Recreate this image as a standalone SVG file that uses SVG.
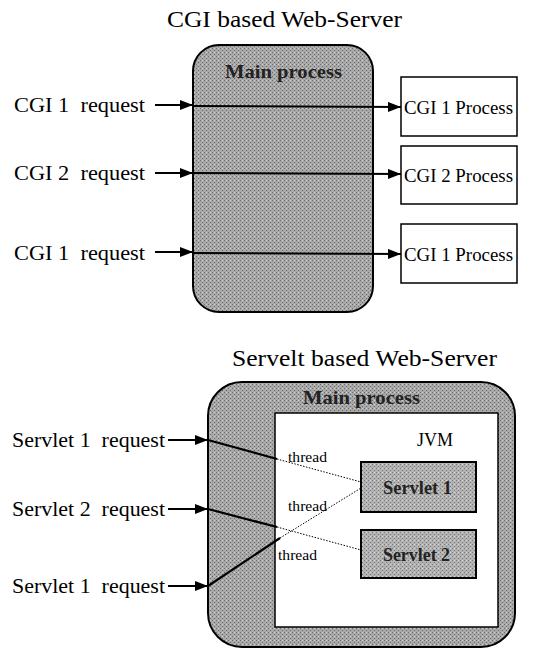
<svg xmlns="http://www.w3.org/2000/svg" width="536" height="648" viewBox="0 0 536 648">
<style>
.t{font-family:"Liberation Serif",serif;fill:#000;white-space:pre}
.lbl{font-size:21px}
.ttl{font-size:24px}
.proc{font-size:18px}
.mp{font-size:19px;font-weight:bold;fill:#222}
.th{font-size:15px}
.gray{fill:url(#dots);stroke:#000;stroke-width:2}
.box{fill:#fff;stroke:#000;stroke-width:1.5}
.arr{stroke:#000;stroke-width:2;fill:none;marker-end:url(#ah)}
.thick{stroke:#000;stroke-width:2.2;fill:none}
.dot{stroke:#000;stroke-width:1;stroke-dasharray:1.5 1.5;fill:none}
.sv{fill:url(#dots2);stroke:#000;stroke-width:2}
</style>
<defs>
<pattern id="dots" width="4" height="4" patternUnits="userSpaceOnUse">
<rect width="4" height="4" fill="#a8a8a8"/>
<rect width="1" height="1" fill="#6a6a6a"/>
<rect x="2" y="2" width="1" height="1" fill="#6a6a6a"/>
<rect x="2" y="0" width="1" height="1" fill="#d0d0d0"/>
</pattern>
<pattern id="dots2" width="4" height="4" patternUnits="userSpaceOnUse">
<rect width="4" height="4" fill="#b2b2b2"/>
<rect width="1" height="1" fill="#7a7a7a"/>
<rect x="2" y="2" width="1" height="1" fill="#7a7a7a"/>
<rect x="2" y="0" width="1" height="1" fill="#d8d8d8"/>
</pattern>
<marker id="ah" markerWidth="13" markerHeight="10" refX="13" refY="5" orient="auto" markerUnits="userSpaceOnUse">
<path d="M0,0 L13,5 L0,10 Z" fill="#000"/>
</marker>
</defs>

<text class="t ttl" x="167" y="27" textLength="235" lengthAdjust="spacingAndGlyphs">CGI based Web-Server</text>

<g id="cgi-main">
<rect class="gray" x="193" y="45" width="180" height="267" rx="26"/>
<text class="t mp" x="225" y="78" textLength="117" lengthAdjust="spacingAndGlyphs">Main process</text>
</g>

<g id="cgi-req1"><text class="t lbl" x="14" y="112" textLength="131" lengthAdjust="spacingAndGlyphs">CGI 1  request</text></g>
<g id="cgi-req2"><text class="t lbl" x="14" y="180" textLength="131" lengthAdjust="spacingAndGlyphs">CGI 2  request</text></g>
<g id="cgi-req3"><text class="t lbl" x="14" y="260" textLength="131" lengthAdjust="spacingAndGlyphs">CGI 1  request</text></g>

<g id="cgi-p1"><rect class="box" x="401" y="77" width="116" height="59"/><text class="t proc" x="404" y="114" textLength="109" lengthAdjust="spacingAndGlyphs">CGI 1 Process</text></g>
<g id="cgi-p2"><rect class="box" x="401" y="146" width="116" height="58"/><text class="t proc" x="404" y="182" textLength="109" lengthAdjust="spacingAndGlyphs">CGI 2 Process</text></g>
<g id="cgi-p3"><rect class="box" x="401" y="224" width="116" height="59"/><text class="t proc" x="404" y="261" textLength="109" lengthAdjust="spacingAndGlyphs">CGI 1 Process</text></g>

<g id="cgi-connectors">
<line class="arr" x1="155" y1="105" x2="193" y2="105"/>
<line class="arr" x1="193" y1="106" x2="401" y2="107"/>
<line class="arr" x1="155" y1="173" x2="193" y2="173"/>
<line class="arr" x1="193" y1="173" x2="401" y2="174"/>
<line class="arr" x1="155" y1="252" x2="193" y2="252"/>
<line class="arr" x1="193" y1="253" x2="401" y2="254"/>
</g>

<text class="t ttl" x="232" y="366" textLength="265" lengthAdjust="spacingAndGlyphs">Servelt based Web-Server</text>

<g id="srv-main">
<rect class="gray" x="208" y="382" width="307" height="265" rx="34"/>
<text class="t mp" x="303" y="404" textLength="117" lengthAdjust="spacingAndGlyphs">Main process</text>
</g>
<g id="jvm">
<rect class="box" x="275" y="413" width="223" height="214"/>
<text class="t" style="font-size:18px" x="417" y="446" textLength="36" lengthAdjust="spacingAndGlyphs">JVM</text>
</g>
<g id="servlet1"><rect class="sv" x="361" y="462" width="115" height="50"/><text class="t mp" x="383" y="494" textLength="69" lengthAdjust="spacingAndGlyphs" style="font-size:18px">Servlet 1</text></g>
<g id="servlet2"><rect class="sv" x="361" y="530" width="115" height="48"/><text class="t mp" x="383" y="561" textLength="67" lengthAdjust="spacingAndGlyphs" style="font-size:18px">Servlet 2</text></g>

<g id="srv-req1"><text class="t lbl" x="12" y="447" textLength="153" lengthAdjust="spacingAndGlyphs">Servlet 1  request</text></g>
<g id="srv-req2"><text class="t lbl" x="12" y="516" textLength="153" lengthAdjust="spacingAndGlyphs">Servlet 2  request</text></g>
<g id="srv-req3"><text class="t lbl" x="12" y="593" textLength="153" lengthAdjust="spacingAndGlyphs">Servlet 1  request</text></g>

<g id="srv-connectors">
<line class="arr" x1="168" y1="440" x2="208" y2="440"/>
<line class="arr" x1="168" y1="509" x2="208" y2="509"/>
<line class="arr" x1="168" y1="586" x2="208" y2="586"/>
<line class="thick" x1="208" y1="440" x2="277" y2="459"/>
<line class="dot" x1="277" y1="459" x2="361" y2="482"/>
<line class="thick" x1="208" y1="509" x2="277" y2="527"/>
<line class="dot" x1="277" y1="527" x2="361" y2="550"/>
<line class="thick" x1="208" y1="586" x2="280" y2="538"/>
<line class="dot" x1="280" y1="538" x2="361" y2="488"/>
<text class="t th" x="288" y="462" textLength="39" lengthAdjust="spacingAndGlyphs">thread</text>
<text class="t th" x="288" y="511" textLength="39" lengthAdjust="spacingAndGlyphs">thread</text>
<text class="t th" x="278" y="560" textLength="39" lengthAdjust="spacingAndGlyphs">thread</text>
</g>
</svg>
